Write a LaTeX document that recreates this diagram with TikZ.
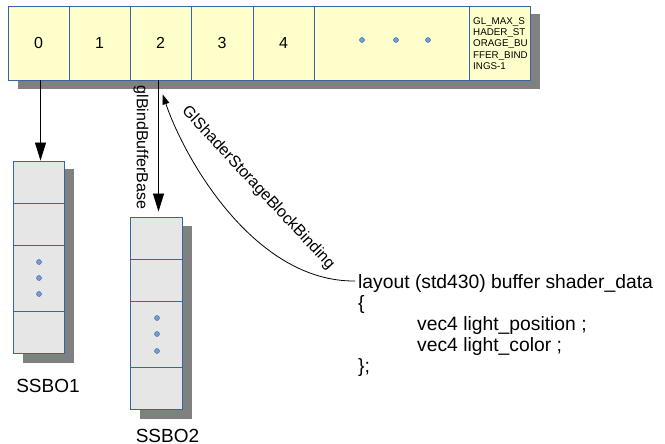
\documentclass[tikz,border=0pt]{standalone}
\usepackage{fontspec}
\setmainfont{Liberation Sans}
\usetikzlibrary{arrows.meta}
\definecolor{cellyellow}{HTML}{FFFFCC}
\definecolor{cellgray}{HTML}{E6E6E6}
\definecolor{edgeblue}{HTML}{3465A4}
\definecolor{dotblue}{HTML}{729FCF}
\definecolor{shadowgray}{HTML}{808080}
\begin{document}
\begin{tikzpicture}[x=1pt,y=-1pt,
  ycell/.style={draw=edgeblue, fill=cellyellow, line width=0.9pt, minimum height=74pt, inner sep=0pt, font=\fontsize{16}{19}\selectfont},
  gcell/.style={draw=edgeblue, fill=cellgray, line width=0.9pt, inner sep=0pt},
  shadowbox/.style={fill=shadowgray},
  bluedot/.style={circle, fill=dotblue, draw=edgeblue, line width=0.4pt, minimum size=5pt, inner sep=0pt},
  barrow/.style={line width=0.8pt, -{Triangle[length=18pt,width=11pt]}},
  carrow/.style={line width=0.8pt, -{Triangle[length=10pt,width=7pt]}},
  lbl/.style={font=\fontsize{16}{19}\selectfont, inner sep=0pt},
  biglbl/.style={font=\fontsize{19}{21.7}\selectfont, inner sep=0pt},
  codelbl/.style={font=\fontsize{19.3}{21}\selectfont, inner sep=0pt}
]
\useasboundingbox (0,0) rectangle (665,444);
% shadows
\fill[shadowbox] (18,14) rectangle (540,89);
\fill[shadowbox] (23,169) rectangle (74,363);
\fill[shadowbox] (140,226) rectangle (192,419);
% top array
\node[ycell, minimum width=61pt] (c0) at (38.5,43) {0};
\node[ycell, minimum width=61pt] (c1) at (99.5,43) {1};
\node[ycell, minimum width=61pt] (c2) at (160.5,43) {2};
\node[ycell, minimum width=62pt] (c3) at (222,43) {3};
\node[ycell, minimum width=61pt] (c4) at (283.5,43) {4};
\node[ycell, minimum width=155pt] (cd) at (391.5,43) {};
\node[ycell, minimum width=61pt] (cl) at (499.5,43) {};
\node[inner sep=0pt, anchor=base west, font=\fontsize{9.8}{11.2}\selectfont] (cltext) at (473,24.5)
  {\begin{tabular}[t]{@{}l@{}}GL\_MAX\_S\\HADER\_ST\\ORAGE\_BU\\FFER\_BIND\\INGS-1\end{tabular}};
\node[bluedot] (td1) at (362,40) {};
\node[bluedot] (td2) at (396,40) {};
\node[bluedot] (td3) at (428,40) {};
% SSBO1
\node[gcell, minimum width=51pt, minimum height=42pt] (s1a) at (38.5,182) {};
\node[gcell, minimum width=51pt, minimum height=42pt] (s1b) at (38.5,224) {};
\node[gcell, minimum width=51pt, minimum height=66pt] (s1c) at (38.5,278) {};
\node[gcell, minimum width=51pt, minimum height=42pt] (s1d) at (38.5,332) {};
\node[bluedot] (s1d1) at (39,262) {};
\node[bluedot] (s1d2) at (39,278) {};
\node[bluedot] (s1d3) at (39,294) {};
\node[biglbl] (ssbo1) at (48,385.5) {SSBO1};
% SSBO2
\node[gcell, minimum width=52pt, minimum height=42pt] (s2a) at (156,238) {};
\node[gcell, minimum width=52pt, minimum height=42pt] (s2b) at (156,280) {};
\node[gcell, minimum width=52pt, minimum height=66pt] (s2c) at (156,334) {};
\node[gcell, minimum width=52pt, minimum height=42pt] (s2d) at (156,388) {};
\node[bluedot] (s2d1) at (157,318) {};
\node[bluedot] (s2d2) at (157,334) {};
\node[bluedot] (s2d3) at (157,351) {};
\node[biglbl] (ssbo2) at (167.5,435.5) {SSBO2};
% code
\node[codelbl, anchor=base west] (code) at (358,288)
  {\begin{tabular}[t]{@{}l@{}}layout (std430) buffer shader\_data\\
   \{\\
   \hspace*{59pt}vec4 light\_position ;\\
   \hspace*{59pt}vec4 light\_color ;\\
   \};\end{tabular}};
% arrows
\draw[barrow] ([xshift=2pt]c0.south) -- ([xshift=2pt]s1a.north);
\draw[barrow, shorten >=5pt] ([xshift=-2pt]c2.south) -- ([xshift=2.5pt]s2a.north);
\node[lbl, rotate=-90] (bindlbl) at (141,147.5) {glBindBufferBase};
\coordinate (cs) at ([xshift=-3pt,yshift=7pt]code.base west);
\coordinate (ct) at ([xshift=2.2pt,yshift=-14pt]c2.south);
\draw[carrow] (cs) .. controls (255,282) and (185,160) .. (ct);
\node[lbl, rotate=-47] (bindblk) at (258,188) {GlShaderStorageBlockBinding};
\end{tikzpicture}
\end{document}
